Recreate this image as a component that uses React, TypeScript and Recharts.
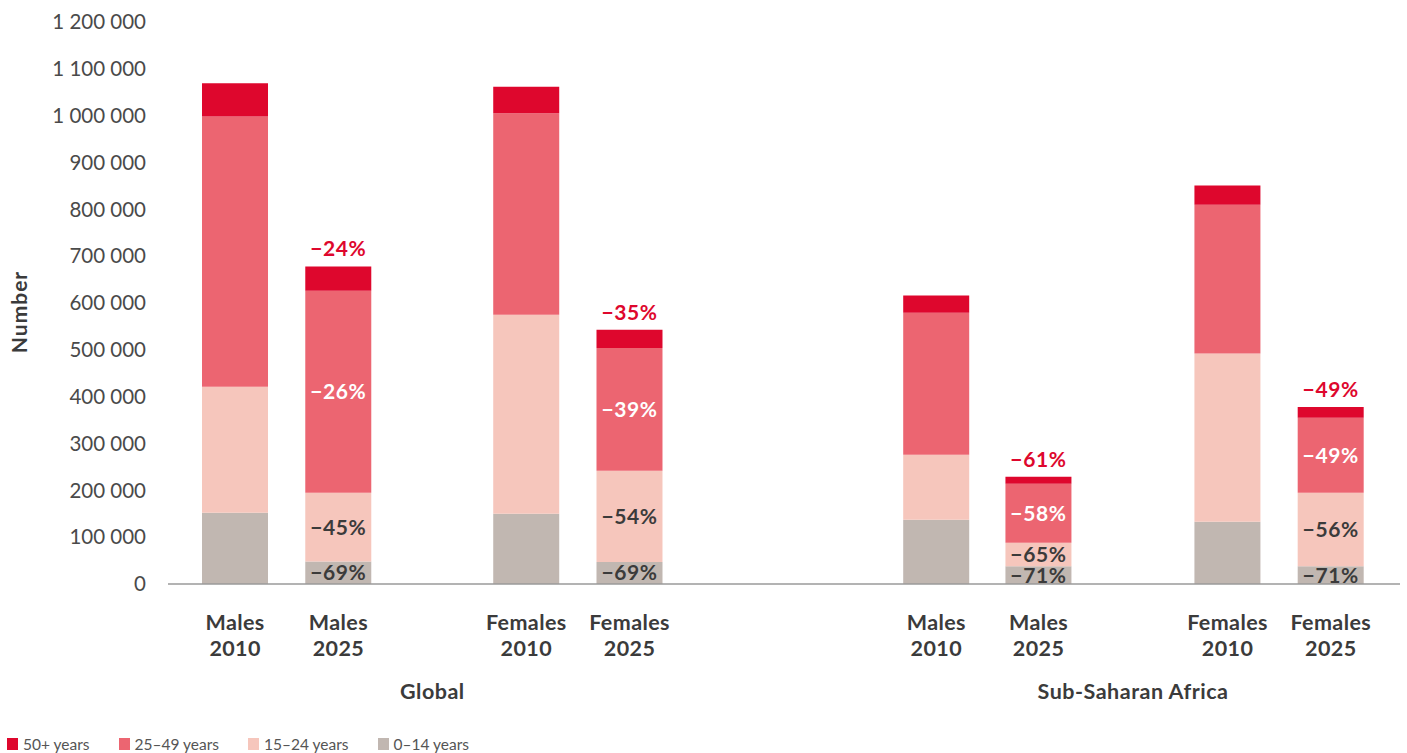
import { Bar, BarChart, LabelList, XAxis, YAxis } from "recharts";

const categories = [
  "Males 2010",
  "Males 2025",
  "Females 2010",
  "Females 2025",
  "Males 2010",
  "Males 2025",
  "Females 2010",
  "Females 2025",
];

const groups = ["Global", "Sub-Saharan Africa"];

// values
const age0to14 = [152000, 48000, 150000, 47000, 137000, 38000, 133000, 38000];
const age15to24 = [269000, 147000, 425000, 195000, 139000, 50000, 359000, 157000];
const age25to49 = [577000, 431000, 430000, 262000, 303000, 126000, 318000, 160000];
const age50plus = [71000, 52000, 57000, 39000, 37000, 15000, 41000, 23000];

const change0to14 = [null, "−69%", null, "−69%", null, "−71%", null, "−71%"];
const change15to24 = [null, "−45%", null, "−54%", null, "−65%", null, "−56%"];
const change25to49 = [null, "−26%", null, "−39%", null, "−58%", null, "−49%"];
const change50plus = [null, "−24%", null, "−35%", null, "−61%", null, "−49%"];

const yTicks = [0, 100000, 200000, 300000, 400000, 500000, 600000, 700000, 800000, 900000, 1000000, 1100000, 1200000];

// slot of each bar along the x axis (bars grouped in pairs)
const slots = [0, 1, 2.82, 3.82, 6.79, 7.78, 9.61, 10.61];
const groupSlots = [(slots[1] + slots[2]) / 2, (slots[5] + slots[6]) / 2];

const COLORS = {
  a50: "#DE072D",
  a25: "#EC6571",
  a15: "#F6C6BC",
  a0: "#C1B7B1",
};

const FONT = "Lato, 'Open Sans', sans-serif";

const data = categories.map((name, i) => ({
  name,
  slot: slots[i],
  a0: age0to14[i],
  a15: age15to24[i],
  a25: age25to49[i],
  a50: age50plus[i],
  l0: change0to14[i],
  l15: change15to24[i],
  l25: change25to49[i],
  l50: change50plus[i],
}));

const formatNumber = (v: number) => v.toLocaleString("en-US").replace(/,/g, " ");

function CategoryTick(props: any) {
  const { x, y, payload } = props;
  const idx = slots.indexOf(payload.value);
  if (idx < 0) return null;
  const [word, year] = categories[idx].split(" ");
  const common = {
    textAnchor: "middle" as const,
    fill: "#3b3b3b",
    fontSize: 21.5,
    fontWeight: 700,
    fontFamily: FONT,
    letterSpacing: 0.4,
  };
  return (
    <g>
      <text x={x} y={y + 46} {...common}>
        {word}
      </text>
      <text x={x} y={y + 72} {...common}>
        {year}
      </text>
    </g>
  );
}

function GroupTick(props: any) {
  const { x, y, payload } = props;
  const idx = groupSlots.indexOf(payload.value);
  if (idx < 0) return null;
  return (
    <text
      x={x}
      y={y + 35}
      textAnchor="middle"
      fill="#3b3b3b"
      fontSize={21.5}
      fontWeight={700}
      fontFamily={FONT}
      letterSpacing={0.5}
    >
      {groups[idx]}
    </text>
  );
}

function AxisTitle(props: any) {
  const { viewBox } = props;
  const cx = 18;
  const cy = viewBox.y + viewBox.height / 2 + 9;
  return (
    <text
      x={cx}
      y={cy}
      transform={`rotate(-90, ${cx}, ${cy})`}
      textAnchor="middle"
      dominantBaseline="central"
      fill="#3b3b3b"
      fontSize={21}
      fontWeight={700}
      fontFamily={FONT}
      letterSpacing={1}
    >
      Number
    </text>
  );
}

const legendItems = [
  { label: "50+ years", color: COLORS.a50 },
  { label: "25–49 years", color: COLORS.a25 },
  { label: "15–24 years", color: COLORS.a15 },
  { label: "0–14 years", color: COLORS.a0 },
];

const labelStyle = { fontSize: 21, fontWeight: 700, fontFamily: FONT, letterSpacing: 0.6 };

export default function App() {
  return (
    <div style={{ position: "absolute", left: 0, top: 0, width: 1407, height: 753, background: "#fff" }}>
      <BarChart
        width={1407}
        height={753}
        data={data}
        margin={{ top: 22, right: 7, bottom: 49, left: 0 }}
        barSize={66}
      >
        <XAxis
          dataKey="slot"
          type="number"
          domain={[-0.65, 11.28]}
          ticks={slots}
          interval={0}
          height={80}
          tickSize={0}
          tickMargin={0}
          tickLine={false}
          axisLine={{ stroke: "#9a9a9a", strokeWidth: 1.5 }}
          tick={<CategoryTick />}
        />
        <XAxis
          xAxisId="g"
          dataKey="slot"
          type="number"
          domain={[-0.65, 11.28]}
          ticks={groupSlots}
          interval={0}
          height={40}
          tickSize={0}
          tickMargin={0}
          tickLine={false}
          axisLine={false}
          tick={<GroupTick />}
        />
        <YAxis
          type="number"
          domain={[0, 1200000]}
          ticks={yTicks}
          interval={0}
          width={168}
          tickSize={0}
          tickMargin={22}
          axisLine={false}
          tickLine={false}
          tickFormatter={formatNumber}
          tick={{ fill: "#4a4a4a", fontSize: 20.5, fontFamily: FONT }}
          label={<AxisTitle />}
        />
        <Bar dataKey="a0" stackId="s" fill={COLORS.a0} isAnimationActive={false}>
          <LabelList dataKey="l0" position="center" fill="#3b3b3b" style={labelStyle} />
        </Bar>
        <Bar dataKey="a15" stackId="s" fill={COLORS.a15} isAnimationActive={false}>
          <LabelList dataKey="l15" position="center" fill="#3b3b3b" style={labelStyle} />
        </Bar>
        <Bar dataKey="a25" stackId="s" fill={COLORS.a25} isAnimationActive={false}>
          <LabelList dataKey="l25" position="center" fill="#ffffff" style={labelStyle} />
        </Bar>
        <Bar dataKey="a50" stackId="s" fill={COLORS.a50} isAnimationActive={false}>
          <LabelList dataKey="l50" position="top" offset={10} fill={COLORS.a50} style={labelStyle} />
        </Bar>
      </BarChart>
      <div
        style={{
          position: "absolute",
          left: 7,
          top: 735,
          height: 18,
          display: "flex",
          alignItems: "center",
          gap: 29,
          fontFamily: FONT,
          fontSize: 15.5,
          color: "#555",
        }}
      >
        {legendItems.map((it) => (
          <div key={it.label} style={{ display: "flex", alignItems: "center", gap: 5 }}>
            <span style={{ display: "inline-block", width: 11, height: 12, background: it.color }} />
            <span>{it.label}</span>
          </div>
        ))}
      </div>
    </div>
  );
}
